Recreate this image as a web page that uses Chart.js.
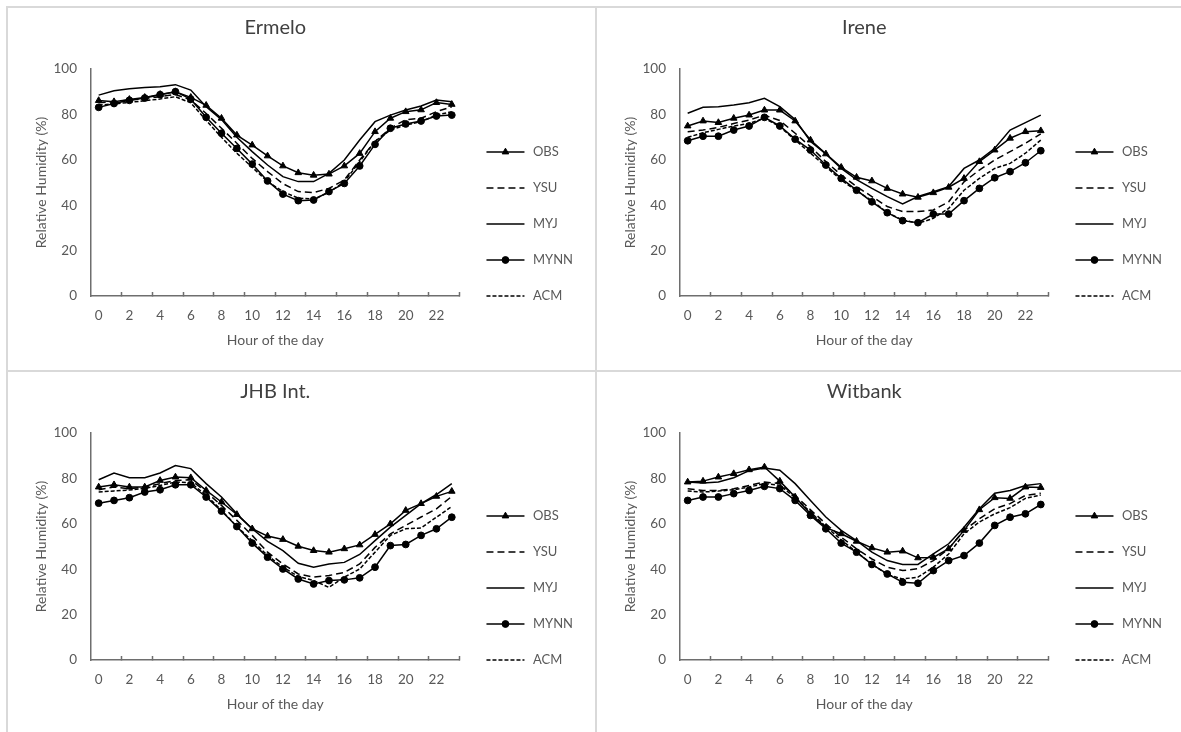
<!DOCTYPE html>
<html>
<head>
<meta charset="utf-8">
<title>Relative humidity by hour of the day</title>
<script src="https://cdn.jsdelivr.net/npm/chart.js@4.4.1/dist/chart.umd.min.js"></script>
<style>
  body { margin: 0; background: #fff; width: 1181px; height: 732px; overflow: hidden; position: relative; }
  .panel { position: absolute; width: 587px; height: 362px; border-top: 2px solid #d9d9d9; border-left: 2px solid #d9d9d9; }
  .panel canvas { display: block; }
</style>
</head>
<body>
<div class="panel" style="left:6px; top:6px"><canvas id="ermelo" width="587" height="362"></canvas></div>
<div class="panel" style="left:595px; top:6px"><canvas id="irene" width="587" height="362"></canvas></div>
<div class="panel" style="left:6px; top:370px"><canvas id="jhb" width="587" height="362"></canvas></div>
<div class="panel" style="left:595px; top:370px"><canvas id="witbank" width="587" height="362"></canvas></div>
<script>
const hours = [0, 1, 2, 3, 4, 5, 6, 7, 8, 9, 10, 11, 12, 13, 14, 15, 16, 17, 18, 19, 20, 21, 22, 23];
const models = ['OBS', 'YSU', 'MYJ', 'MYNN', 'ACM'];
const yTicks = [0, 20, 40, 60, 80, 100];

// Ermelo
const ermeloObs  = [86.1, 85.6, 86.6, 87.5, 88.8, 90.0, 87.5, 84.0, 78.3, 70.9, 66.5, 61.7, 57.3, 54.3, 53.2, 53.7, 57.3, 62.8, 72.4, 78.3, 81.2, 82.0, 85.2, 84.4];
const ermeloYsu  = [85.1, 85.6, 86.3, 87.0, 87.8, 88.8, 86.4, 80.4, 73.9, 67.3, 60.6, 54.8, 49.5, 46.0, 45.6, 47.4, 51.1, 59.9, 68.1, 73.9, 77.7, 78.3, 81.2, 83.4];
const ermeloMyj  = [88.5, 90.4, 91.3, 91.9, 92.2, 93.1, 90.7, 83.4, 77.7, 69.9, 63.6, 57.7, 52.6, 50.4, 50.4, 54.0, 59.9, 68.7, 76.8, 79.7, 81.9, 83.7, 86.3, 85.6];
const ermeloMynn = [83.1, 84.8, 86.2, 87.2, 88.7, 90.0, 86.7, 78.7, 71.7, 65.0, 58.1, 50.7, 44.9, 42.0, 42.3, 46.0, 49.6, 57.3, 66.8, 73.9, 75.8, 77.1, 79.3, 79.7];
const ermeloAcm  = [84.1, 84.6, 85.3, 86.0, 86.8, 87.8, 85.1, 77.4, 69.9, 62.9, 56.7, 50.4, 46.0, 43.1, 42.7, 45.6, 50.4, 59.2, 68.1, 73.1, 75.3, 76.8, 79.7, 81.2];

// Irene
const ireneObs  = [74.9, 77.1, 76.4, 78.3, 79.7, 81.9, 81.9, 77.1, 68.7, 62.6, 56.7, 52.3, 50.7, 47.4, 44.9, 43.5, 45.5, 47.9, 51.8, 59.2, 64.3, 69.5, 72.4, 72.8];
const ireneYsu  = [72.4, 73.1, 74.3, 76.0, 77.5, 79.7, 77.3, 71.7, 65.8, 59.2, 53.3, 48.2, 43.8, 39.4, 37.2, 37.2, 37.9, 41.5, 50.3, 55.5, 59.9, 63.6, 67.3, 71.4];
const ireneMyj  = [80.5, 83.1, 83.4, 84.1, 85.1, 87.1, 83.4, 77.7, 68.1, 62.6, 56.2, 51.3, 47.4, 43.8, 40.6, 43.8, 45.9, 48.2, 56.2, 59.9, 65.1, 73.1, 76.4, 79.7];
const ireneMynn = [68.4, 70.4, 70.4, 73.1, 74.9, 78.7, 74.9, 69.1, 64.3, 57.7, 51.8, 46.6, 41.5, 36.7, 33.2, 32.3, 36.1, 36.1, 42.0, 47.4, 52.1, 54.8, 58.7, 64.0];
const ireneAcm  = [69.9, 71.9, 73.4, 74.9, 76.0, 78.3, 74.6, 68.7, 62.9, 57.0, 51.1, 46.3, 42.0, 36.7, 33.5, 32.0, 34.2, 38.6, 46.6, 51.8, 56.2, 58.4, 62.9, 68.7];

// JHB Int.
const jhbObs  = [76.2, 77.2, 76.2, 76.2, 79.1, 80.6, 80.3, 74.7, 69.6, 64.1, 57.8, 54.6, 53.1, 50.1, 48.2, 47.5, 49.0, 50.7, 55.3, 60.0, 65.9, 68.9, 72.1, 74.3];
const jhbYsu  = [75.0, 76.2, 75.5, 76.2, 77.7, 79.1, 79.4, 74.0, 68.1, 61.5, 54.9, 47.5, 42.3, 37.9, 36.5, 37.2, 38.6, 42.3, 49.6, 55.6, 59.3, 63.0, 66.6, 72.1];
const jhbMyj  = [79.4, 82.4, 80.3, 80.3, 82.4, 85.7, 84.3, 77.7, 71.8, 64.4, 57.8, 52.3, 48.2, 42.6, 40.9, 42.3, 43.0, 46.5, 52.6, 58.5, 63.7, 68.9, 72.9, 77.7];
const jhbMynn = [69.1, 70.3, 71.5, 74.0, 75.0, 77.2, 77.2, 71.8, 65.6, 58.8, 51.5, 45.3, 40.1, 35.7, 33.5, 35.0, 35.3, 36.2, 40.9, 50.4, 50.9, 54.9, 57.8, 62.9];
const jhbAcm  = [74.0, 74.5, 74.9, 75.6, 76.9, 78.4, 78.1, 72.5, 66.0, 58.8, 52.6, 46.0, 40.9, 36.8, 35.0, 32.0, 36.5, 40.1, 47.5, 54.9, 57.8, 58.2, 62.9, 67.6];

// Witbank
const witbankObs  = [78.4, 78.8, 80.6, 82.1, 83.8, 85.0, 78.8, 71.8, 64.4, 58.3, 55.6, 52.3, 49.4, 47.5, 48.0, 45.0, 45.2, 49.0, 57.1, 66.2, 71.5, 71.2, 76.2, 76.0];
const witbankYsu  = [75.4, 74.7, 74.7, 75.4, 76.9, 78.4, 77.7, 72.5, 66.2, 60.0, 54.1, 49.0, 44.5, 40.9, 39.4, 40.2, 43.8, 49.0, 57.1, 62.2, 66.6, 68.9, 72.5, 73.5];
const witbankMyj  = [78.4, 78.0, 78.4, 80.3, 83.4, 84.6, 83.6, 77.7, 70.3, 63.0, 57.1, 52.6, 47.5, 43.8, 42.1, 42.1, 46.7, 51.2, 58.5, 66.6, 73.5, 74.7, 76.9, 77.7];
const witbankMynn = [70.3, 71.8, 71.8, 73.3, 74.7, 76.5, 75.5, 70.3, 63.7, 57.8, 51.5, 47.5, 42.1, 37.9, 34.3, 33.8, 39.4, 43.8, 46.0, 51.5, 59.3, 62.9, 64.4, 68.5];
const witbankAcm  = [74.4, 74.0, 74.4, 75.0, 76.2, 77.7, 77.0, 71.5, 65.2, 58.8, 52.9, 47.5, 42.3, 37.6, 35.7, 36.5, 40.9, 46.7, 55.6, 60.8, 64.4, 67.1, 71.2, 72.7];

const axisColor = '#6e6e6e';
const textColor = '#595959';

// line style of each model (legend and plot share it)
const modelStyles = {
  OBS:  { pointStyle: 'triangle', pointRadius: 3.8, borderDash: [] },
  YSU:  { pointStyle: 'circle', pointRadius: 0, borderDash: [7, 4] },
  MYJ:  { pointStyle: 'circle', pointRadius: 0, borderDash: [] },
  MYNN: { pointStyle: 'circle', pointRadius: 3.4, borderDash: [] },
  ACM:  { pointStyle: 'circle', pointRadius: 0, borderDash: [4, 2] }
};

Chart.defaults.font.family = 'Lato, "Open Sans", sans-serif';
Chart.defaults.font.size = 13;
Chart.defaults.color = textColor;

// draws the legend sample lines (with markers) next to the legend text
const legendLines = {
  id: 'legendLines',
  afterDraw(chart) {
    const legend = chart.legend;
    if (!legend || !legend.legendHitBoxes) return;
    const ctx = chart.ctx;
    const boxWidth = legend.options.labels.boxWidth;
    legend.legendHitBoxes.forEach(function (hb, i) {
      const ds = chart.data.datasets[i];
      const y = hb.top + hb.height / 2;
      const x1 = hb.left + 4;
      const x2 = hb.left + boxWidth - 2;
      ctx.save();
      ctx.strokeStyle = ds.borderColor;
      ctx.lineWidth = ds.borderWidth;
      ctx.setLineDash(ds.borderDash);
      ctx.beginPath();
      ctx.moveTo(x1, y);
      ctx.lineTo(x2, y);
      ctx.stroke();
      if (ds.pointRadius > 0 && Chart.helpers && Chart.helpers.drawPoint) {
        ctx.setLineDash([]);
        ctx.fillStyle = ds.pointBackgroundColor;
        ctx.lineWidth = 1;
        Chart.helpers.drawPoint(ctx, { pointStyle: ds.pointStyle, radius: ds.pointRadius, borderWidth: 1, rotation: 0 }, (x1 + x2) / 2, y);
      }
      ctx.restore();
    });
  }
};

function makeChart(id, title, series) {
  const datasets = models.map(function (name, i) {
    const st = modelStyles[name];
    return {
      label: name,
      data: series[i],
      borderColor: '#000',
      backgroundColor: '#000',
      borderWidth: 1.5,
      borderDash: st.borderDash,
      pointStyle: st.pointStyle,
      pointRadius: st.pointRadius,
      pointBackgroundColor: '#000',
      pointBorderColor: '#000',
      pointBorderWidth: 1,
      tension: 0,
      fill: false
    };
  });

  return new Chart(document.getElementById(id), {
    type: 'line',
    data: { labels: hours.map(String), datasets: datasets },
    plugins: [legendLines],
    options: {
      responsive: false,
      animation: false,
      events: [],
      layout: { padding: { top: 0, left: 0, right: 12, bottom: 0 } },
      scales: {
        x: {
          type: 'category',
          offset: true,
          afterFit(scale) { scale.height = 74; },
          grid: {
            offset: true,
            drawOnChartArea: false,
            drawTicks: true,
            tickLength: -4,
            tickWidth: 1.5,
            tickColor: function (c) {
              return (c.index === undefined || (c.index > 0 && c.index % 2 === 0)) ? axisColor : 'rgba(0,0,0,0)';
            }
          },
          border: { display: true, color: axisColor, width: 1.5 },
          ticks: {
            autoSkip: false,
            maxRotation: 0,
            padding: 16,
            color: textColor,
            font: { size: 13.5 },
            callback: function (v, i) { return i % 2 === 0 ? hours[i] : ''; }
          },
          title: {
            display: true,
            text: 'Hour of the day',
            color: textColor,
            font: { size: 14 },
            padding: { top: 0, bottom: 21.6 }
          }
        },
        y: {
          min: yTicks[0],
          max: yTicks[yTicks.length - 1],
          afterFit(scale) { scale.width = 83; },
          afterBuildTicks(scale) { scale.ticks = yTicks.map(v => ({ value: v })); },
          grid: { display: false, drawTicks: false },
          border: { display: true, color: axisColor, width: 1.5 },
          ticks: { padding: 14, color: textColor, font: { size: 13.5 } },
          title: {
            display: true,
            text: 'Relative Humidity (%)',
            color: textColor,
            font: { size: 14 },
            padding: { top: 24.6, bottom: 0 }
          }
        }
      },
      plugins: {
        tooltip: { enabled: false },
        title: {
          display: true,
          text: title,
          fullSize: false,
          color: '#404040',
          font: { size: 20, weight: 'normal' },
          padding: { top: 8, bottom: 29 }
        },
        legend: {
          position: 'right',
          align: 'start',
          title: { display: true, text: '', font: { size: 10 }, padding: { top: 102.5, bottom: 0 } },
          labels: {
            boxWidth: 44,
            boxHeight: 0,
            padding: 23,
            color: textColor,
            font: { size: 13 },
            generateLabels: function (chart) {
              const items = Chart.defaults.plugins.legend.labels.generateLabels(chart);
              items.forEach(function (it) { it.lineWidth = 0; it.fillStyle = 'rgba(0,0,0,0)'; });
              return items;
            }
          }
        }
      }
    }
  });
}

makeChart('ermelo', 'Ermelo', [ermeloObs, ermeloYsu, ermeloMyj, ermeloMynn, ermeloAcm]);
makeChart('irene', 'Irene', [ireneObs, ireneYsu, ireneMyj, ireneMynn, ireneAcm]);
makeChart('jhb', 'JHB Int.', [jhbObs, jhbYsu, jhbMyj, jhbMynn, jhbAcm]);
makeChart('witbank', 'Witbank', [witbankObs, witbankYsu, witbankMyj, witbankMynn, witbankAcm]);
</script>
</body>
</html>
